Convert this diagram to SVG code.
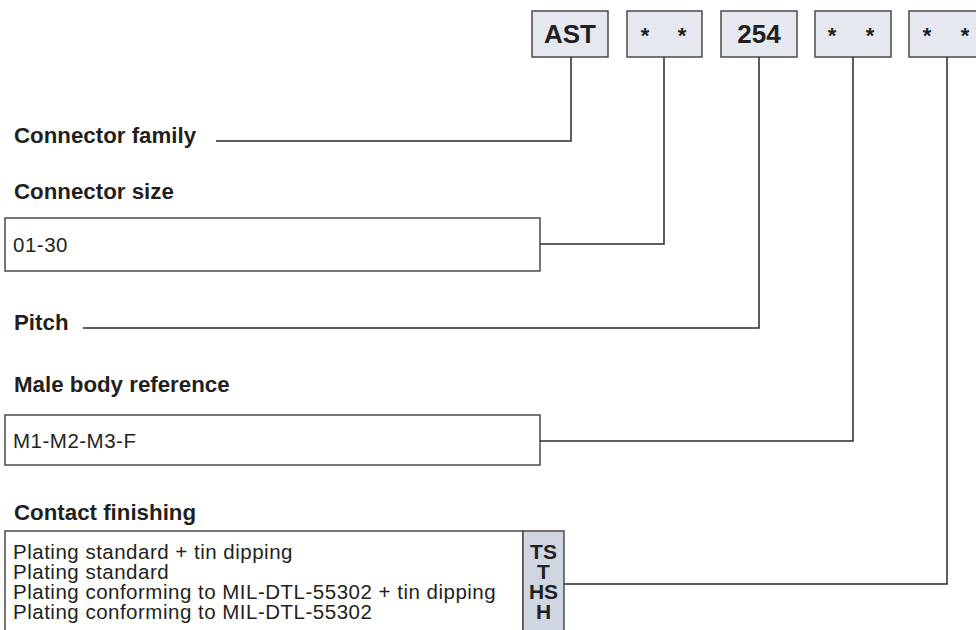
<svg xmlns="http://www.w3.org/2000/svg" width="976" height="630" viewBox="0 0 976 630">
<style>
.code{fill:#e6e8ef;stroke:#4a4a4a;stroke-width:1.5}
.opt{fill:#ffffff;stroke:#4a4a4a;stroke-width:1.5}
.col{fill:#cfd6e1;stroke:#4a4a4a;stroke-width:1.5}
.lbl{font-family:"Liberation Sans",Arial,sans-serif;font-weight:bold;font-size:22.3px;fill:#231f20}
.txt{font-family:"Liberation Sans",Arial,sans-serif;font-size:20.5px;letter-spacing:0.5px;fill:#231f20}
.big{font-family:"Liberation Sans",Arial,sans-serif;font-weight:bold;font-size:26px;fill:#231f20;text-anchor:middle}
.ast{font-family:"Liberation Sans",Arial,sans-serif;font-weight:bold;font-size:22px;fill:#231f20;text-anchor:middle}
.ct{font-family:"Liberation Sans",Arial,sans-serif;font-weight:bold;font-size:21px;fill:#231f20;text-anchor:middle}
.conn{fill:none;stroke:#2a2a2a;stroke-width:1.5}
</style>
<rect width="976" height="630" fill="#ffffff"/>
<g id="code-family"><rect class="code" x="532" y="11" width="76" height="46"/><text class="big" x="570" y="43">AST</text></g>
<g id="code-size"><rect class="code" x="627" y="11" width="75" height="46"/><text class="ast" x="645" y="43">*</text><text class="ast" x="682" y="43">*</text></g>
<g id="code-pitch"><rect class="code" x="721" y="11" width="76" height="46"/><text class="big" x="759" y="43">254</text></g>
<g id="code-body"><rect class="code" x="815" y="11" width="76" height="46"/><text class="ast" x="832" y="43">*</text><text class="ast" x="870" y="43">*</text></g>
<g id="code-finish"><rect class="code" x="909" y="11" width="76" height="46"/><text class="ast" x="927" y="43">*</text><text class="ast" x="965" y="43">*</text></g>
<g id="label-family"><text class="lbl" x="14" y="143">Connector family</text></g>
<g id="label-size"><text class="lbl" x="14" y="199">Connector size</text>
<rect class="opt" x="5" y="218" width="535" height="53"/><text class="txt" x="13" y="252">01-30</text></g>
<g id="label-pitch"><text class="lbl" x="14" y="330">Pitch</text></g>
<g id="label-body"><text class="lbl" x="14" y="392">Male body reference</text>
<rect class="opt" x="5" y="415" width="535" height="50"/><text class="txt" x="13" y="448">M1-M2-M3-F</text></g>
<g id="label-finish"><text class="lbl" x="14" y="520">Contact finishing</text>
<rect class="opt" x="5" y="531" width="518" height="110"/>
<rect class="col" x="523" y="531" width="41" height="110"/>
<text class="txt" x="13" y="559">Plating standard + tin dipping</text>
<text class="txt" x="13" y="579">Plating standard</text>
<text class="txt" x="13" y="599">Plating conforming to MIL-DTL-55302 + tin dipping</text>
<text class="txt" x="13" y="619">Plating conforming to MIL-DTL-55302</text>
<text class="ct" x="543.5" y="559">TS</text>
<text class="ct" x="543.5" y="579">T</text>
<text class="ct" x="543.5" y="599">HS</text>
<text class="ct" x="543.5" y="619">H</text></g>
<g id="connectors">
<polyline class="conn" points="571,57 571,141 216,141"/>
<polyline class="conn" points="664,57 664,244 540,244"/>
<polyline class="conn" points="759,57 759,328 83,328"/>
<polyline class="conn" points="853,57 853,441 540,441"/>
<polyline class="conn" points="947,57 947,584 564,584"/>
</g>
</svg>
